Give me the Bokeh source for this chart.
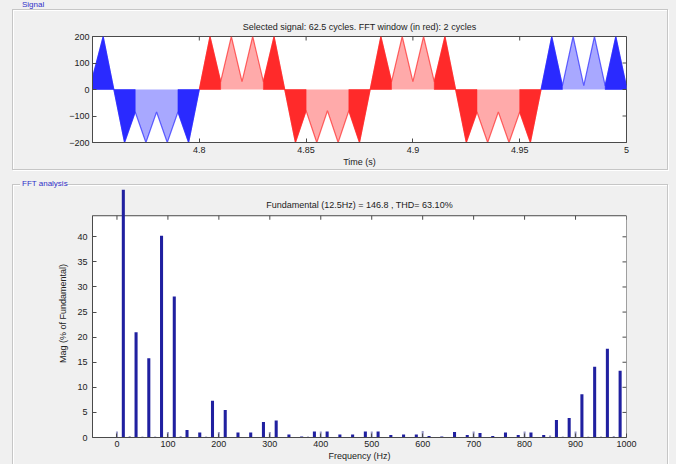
import numpy as np
from bokeh.plotting import figure
from bokeh.layouts import column
from bokeh.models import Range1d, LinearAxis, FixedTicker, Label, Div, Title
from bokeh.embed import file_html
from bokeh.resources import INLINE

# ---------------- data ----------------
sig_title = "Selected signal: 62.5 cycles. FFT window (in red): 2 cycles"
sig_t = [4.750, 4.755, 4.760, 4.765, 4.770, 4.775, 4.780, 4.785, 4.790, 4.795,
         4.800, 4.805, 4.810, 4.815, 4.820, 4.825, 4.830, 4.835, 4.840, 4.845,
         4.850, 4.855, 4.860, 4.865, 4.870, 4.875, 4.880, 4.885, 4.890, 4.895,
         4.900, 4.905, 4.910, 4.915, 4.920, 4.925, 4.930, 4.935, 4.940, 4.945,
         4.950, 4.955, 4.960, 4.965, 4.970, 4.975, 4.980, 4.985, 4.990, 4.995,
         5.000]
sig_v = [45, 200, 0, -200, -85, -200, -85, -200, -85, -200,
         0, 200, 30, 200, 30, 200, 30, 200, 0, -200,
         -80, -200, -80, -200, -80, -200, 0, 200, 30, 200,
         30, 200, 30, 200, 0, -200, -85, -200, -85, -200,
         -85, -200, 0, 200, 15, 200, 15, 200, 15, 200,
         10]
hump_dark = [1, 1, 0, 0, 1, 1, 0, 0, 1, 1, 0, 0, 1, 1, 0, 0, 1, 1, 0, 0, 1, 1, 0, 0, 1]
fft_window = [4.80, 4.96]
sig_xticks = [4.8, 4.85, 4.9, 4.95, 5]
sig_xlabels = ["4.8", "4.85", "4.9", "4.95", "5"]
sig_yticks = [-200, -100, 0, 100, 200]

fft_title = "Fundamental (12.5Hz) = 146.8 , THD= 63.10%"
odd_freq = [12.5, 37.5, 62.5, 87.5, 112.5, 137.5, 162.5, 187.5, 212.5, 237.5,
            262.5, 287.5, 312.5, 337.5, 362.5, 387.5, 412.5, 437.5, 462.5, 487.5,
            512.5, 537.5, 562.5, 587.5, 612.5, 637.5, 662.5, 687.5, 712.5, 737.5,
            762.5, 787.5, 812.5, 837.5, 862.5, 887.5, 912.5, 937.5, 962.5, 987.5]
odd_mag = [100.0, 21.0, 15.8, 40.2, 28.1, 1.5, 1.0, 7.3, 5.5, 1.0,
           1.0, 3.1, 3.4, 0.6, 0.2, 1.2, 1.2, 0.6, 0.6, 1.2,
           1.2, 0.5, 0.6, 0.6, 0.3, 0.2, 1.1, 0.5, 0.9, 0.3,
           1.0, 0.5, 1.0, 0.5, 3.5, 3.9, 8.6, 14.1, 17.7, 13.3]
even_freq = [0, 25, 50, 75, 100, 125, 150, 175, 200, 225,
             250, 275, 300, 325, 350, 375, 400, 425, 450, 475,
             500, 525, 550, 575, 600, 625, 650, 675, 700, 725,
             750, 775, 800, 825, 850, 875, 900, 925, 950, 975]
even_mag = [1.2, 0.3, 0.2, 0.2, 1.1, 0.3, 0.1, 0.2, 1.1, 0.1,
            0.1, 0.1, 1.1, 0.1, 0.1, 0.2, 1.2, 0.1, 0.1, 0.1,
            1.2, 0.1, 0.1, 0.1, 1.3, 0.1, 0.1, 0.1, 1.2, 0.1,
            0.1, 0.1, 1.2, 0.1, 0.4, 0.2, 1.2, 0.2, 0.2, 0.3]
fft_xticks = [0, 100, 200, 300, 400, 500, 600, 700, 800, 900, 1000]
fft_yticks = [0, 5, 10, 15, 20, 25, 30, 35, 40]

# ---------------- style ----------------
BG = "#f0f0f0"
AX = "#4a4a4a"
TXT = "#222222"
FONT = "Liberation Sans"
RED_D, RED_L = "#ff2a2a", "#ffaaaa"
BLU_D, BLU_L = "#2a2aff", "#a8a8ff"
BAR_D, BAR_L = "#2020a0", "#9a9ac8"
FRAME_LINE = "#c6c6c6"


def style_axis(ax):
    ax.axis_line_color = AX
    ax.major_tick_line_color = AX
    ax.major_tick_in = 4
    ax.major_tick_out = 0
    ax.minor_tick_line_color = None
    ax.major_label_text_font = FONT
    ax.major_label_text_font_size = "9px"
    ax.major_label_text_color = TXT
    ax.major_label_standoff = 3
    ax.axis_label_text_font = FONT
    ax.axis_label_text_font_size = "9px"
    ax.axis_label_text_font_style = "normal"
    ax.axis_label_text_color = TXT
    ax.axis_label_standoff = 1


# ---------------- signal plot ----------------
xr1 = Range1d(4.75, 5.0)
yr1 = Range1d(-200, 200)
p1 = figure(width=676, height=178, x_range=xr1, y_range=yr1,
            output_backend="svg", toolbar_location=None,
            min_border_left=88, min_border_right=48, min_border_top=36, min_border_bottom=36,
            background_fill_color="white", border_fill_color=BG,
            outline_line_color=AX, x_axis_location=None, y_axis_location=None)
p1.grid.visible = False
p1.title = Title(text=sig_title, align="center", text_font=FONT, text_font_size="9px",
                 text_font_style="normal", text_color=TXT, standoff=10)

t = np.array(sig_t)
v = np.array(sig_v, dtype=float)
w0, w1 = fft_window
segments = [(t <= w0, BLU_D, BLU_L), ((t >= w0) & (t <= w1), RED_D, RED_L), (t >= w1, BLU_D, BLU_L)]
for m, dark, light in segments:
    p1.varea(x=t[m], y1=0, y2=v[m], fill_color=light, fill_alpha=1.0)
    p1.line(t[m], v[m], line_color=dark, line_width=1.2, line_alpha=0.7)

xs_r, ys_r, xs_b, ys_b = [], [], [], []
for j, d in enumerate(hump_dark):
    if not d:
        continue
    hx = list(t[2 * j:2 * j + 3])
    hy = list(v[2 * j:2 * j + 3])
    px = [hx[0]] + hx + [hx[-1]]
    py = [0.0] + hy + [0.0]
    if hx[0] >= w0 - 1e-9 and hx[-1] <= w1 + 1e-9:
        xs_r.append(px); ys_r.append(py)
    else:
        xs_b.append(px); ys_b.append(py)
p1.patches(xs_r, ys_r, fill_color=RED_D, line_color=RED_D, line_width=0.5)
p1.patches(xs_b, ys_b, fill_color=BLU_D, line_color=BLU_D, line_width=0.5)

# inward tick marks on the top and right edges of the box
tick_y1 = (yr1.end - yr1.start) * 4 / 106
tick_x1 = (xr1.end - xr1.start) * 4 / 540
p1.segment(x0=sig_xticks, y0=[yr1.end] * len(sig_xticks), x1=sig_xticks,
           y1=[yr1.end - tick_y1] * len(sig_xticks), line_color=AX)
p1.segment(x0=[xr1.end] * len(sig_yticks), y0=sig_yticks, x1=[xr1.end - tick_x1] * len(sig_yticks),
           y1=sig_yticks, line_color=AX)

ax_b = LinearAxis(ticker=FixedTicker(ticks=sig_xticks), axis_label="Time (s)",
                  major_label_overrides={k: s for k, s in zip(sig_xticks, sig_xlabels)})
style_axis(ax_b)
ax_b.major_label_standoff = 4
ax_b.axis_label_standoff = 1
p1.add_layout(ax_b, "below")
ax_l = LinearAxis(ticker=FixedTicker(ticks=sig_yticks))
style_axis(ax_l)
p1.add_layout(ax_l, "left")

# ---------------- FFT plot ----------------
x_lo, x_hi = -48, 1000
y_box, y_top = 44.2, 49.43
p2 = figure(width=676, height=286, x_range=Range1d(x_lo, x_hi), y_range=Range1d(0, y_top),
            output_backend="svg", toolbar_location=None,
            min_border_left=92, min_border_right=50, min_border_top=11, min_border_bottom=27,
            background_fill_color=BG, border_fill_color=BG,
            outline_line_color=None, x_axis_location=None, y_axis_location=None)
p2.grid.visible = False
p2.quad(left=x_lo, right=x_hi, bottom=0, top=y_box, fill_color="white", line_color=AX, line_width=1)
tick_fy = y_top * 4 / 248
tick_fx = (x_hi - x_lo) * 4 / 534
p2.segment(x0=fft_xticks, y0=[y_box] * len(fft_xticks), x1=fft_xticks,
           y1=[y_box - tick_fy] * len(fft_xticks), line_color=AX, line_width=1)
p2.segment(x0=[x_hi] * len(fft_yticks), y0=fft_yticks, x1=[x_hi - tick_fx] * len(fft_yticks),
           y1=fft_yticks, line_color=AX, line_width=1)
p2.vbar(x=even_freq, top=even_mag, width=4, fill_color=BAR_L, line_color=None)
p2.vbar(x=odd_freq, top=odd_mag, width=6, fill_color=BAR_D, line_color=None)

bx = LinearAxis(ticker=FixedTicker(ticks=fft_xticks), axis_label="Frequency (Hz)")
style_axis(bx)
p2.add_layout(bx, "below")
ly = LinearAxis(ticker=FixedTicker(ticks=fft_yticks), axis_label="Mag (% of Fundamental)",
                bounds=(0, y_box))
style_axis(ly)
ly.major_label_standoff = 5
ly.axis_label_standoff = 6
p2.add_layout(ly, "left")
p2.add_layout(Label(x=(x_lo + x_hi) / 2, y=46.3, text=fft_title, text_font=FONT,
                    text_font_size="9px", text_color=TXT, text_align="center",
                    text_baseline="middle"))

# ---------------- group boxes (panel frames with captions) ----------------
def abs_div(left, top, width, height, border, text="", extra=None):
    st = {"position": "absolute", "left": f"{left}px", "top": f"{top}px",
          "pointer-events": "none"}
    st.update(border)
    if extra:
        st.update(extra)
    return Div(text=text, width=width, height=height, margin=0, styles=st)


line = f"1px solid {FRAME_LINE}"
etch = {"box-shadow": "inset 1px 1px 0 #ffffff, 1px 1px 0 #ffffff"}
box1 = abs_div(12, 9, 656, 161, {"border": line}, extra=etch)
box2 = abs_div(12, 184, 656, 285, {"border-top": line, "border-left": line, "border-right": line},
               extra=etch)
cap_style = {"font-family": FONT, "font-size": "8px", "line-height": "9px", "color": "#3030c8",
             "background-color": BG, "padding": "0 2px", "white-space": "nowrap"}
cap1 = abs_div(20, 0, 26, 9, {}, "Signal", cap_style)
cap2 = abs_div(20, 179, 46, 9, {}, "FFT analysis", cap_style)

layout = column(p1, p2, box1, box2, cap1, cap2, spacing=0,
                styles={"background-color": BG, "position": "relative"})
open("out.html", "w").write(file_html(layout, INLINE))
